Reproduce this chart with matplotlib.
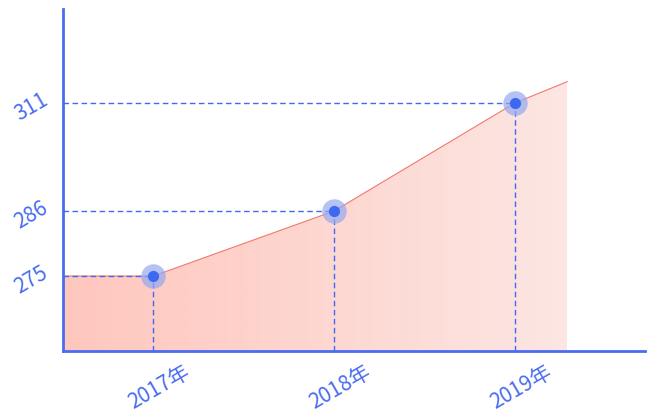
import numpy as np
import matplotlib.pyplot as plt
import matplotlib.transforms as mtransforms
from matplotlib.patches import Polygon

plt.rcParams['font.family'] = ['Noto Sans CJK SC', 'DejaVu Sans']

years = ['2017年', '2018年', '2019年']
values = [275, 286, 311]
# line runs from the y axis to a bit past the last point
left_value = 275
right_value = 316

# the chart's y axis is not linear: anchor values -> screen position
scale_vals = [262, 275, 286, 311, 333]
scale_pos = [0, 75, 140, 248, 342]

blue = '#4a6cf0'
dash_blue = '#3f6af5'
dot = '#3d68f2'
line_red = '#f07a6c'

fig = plt.figure(figsize=(6.58, 4.2), dpi=100)
ax = fig.add_axes([63 / 658, 69 / 420, 582 / 658, 342 / 420])

ax.set_yscale('function', functions=(lambda v: np.interp(v, scale_vals, scale_pos),
                                     lambda p: np.interp(p, scale_pos, scale_vals)))
ax.set_xlim(-0.5, 2.72)
ax.set_ylim(262, 333)

x = np.arange(len(years))
lx = np.concatenate([[-0.5], x, [2.29]])
ly = np.concatenate([[left_value], values, [right_value]])

# gradient fill under the line
grad = np.linspace(0, 1, 256).reshape(1, -1)
c0 = np.array([255, 199, 190]) / 255
c1 = np.array([252, 230, 227]) / 255
img = c0 + (c1 - c0) * grad[..., None]
im = ax.imshow(img, extent=[-0.5, 2.29, 262, 333], aspect='auto', zorder=1,
               interpolation='bilinear')
poly = Polygon(np.column_stack([np.concatenate([lx, [2.29, -0.5]]),
                                np.concatenate([ly, [262, 262]])]),
               closed=True, transform=ax.transData, facecolor='none', edgecolor='none')
ax.add_patch(poly)
im.set_clip_path(poly)

ax.plot(lx, ly, color=line_red, lw=0.8, zorder=2)

for xi, v in zip(x, values):
    ax.plot([-0.5, xi], [v, v], color=dash_blue, lw=1.0, ls=(0, (4, 2.5)), zorder=3)
    ax.plot([xi, xi], [262, v], color=dash_blue, lw=1.0, ls=(0, (4, 2.5)), zorder=3)

ax.scatter(x, values, s=310, color='#94a8f0', alpha=0.7, zorder=4, linewidths=0)
ax.scatter(x, values, s=65, color=dot, zorder=5, linewidths=0)

ax.set_xticks(x)
ax.set_xticklabels(years)
ax.set_yticks(values)
ax.set_yticklabels([str(v) for v in values])
ax.tick_params(length=0, colors=blue, labelsize=15)
ax.tick_params(axis='x', pad=7)
ax.tick_params(axis='y', pad=8)
shift = mtransforms.ScaledTranslation(6 / 100, 0, fig.dpi_scale_trans)
for lab in ax.get_xticklabels():
    lab.set_rotation(30)
    lab.set_ha('center')
    lab.set_transform(lab.get_transform() + shift)
yshift = mtransforms.ScaledTranslation(0, -4 / 100, fig.dpi_scale_trans)
for lab in ax.get_yticklabels():
    lab.set_rotation(30)
    lab.set_va('center')
    lab.set_transform(lab.get_transform() + yshift)

for s in ['top', 'right']:
    ax.spines[s].set_visible(False)
for s in ['left', 'bottom']:
    ax.spines[s].set_color(blue)
    ax.spines[s].set_linewidth(2)

fig.savefig('out.png', dpi=100)
